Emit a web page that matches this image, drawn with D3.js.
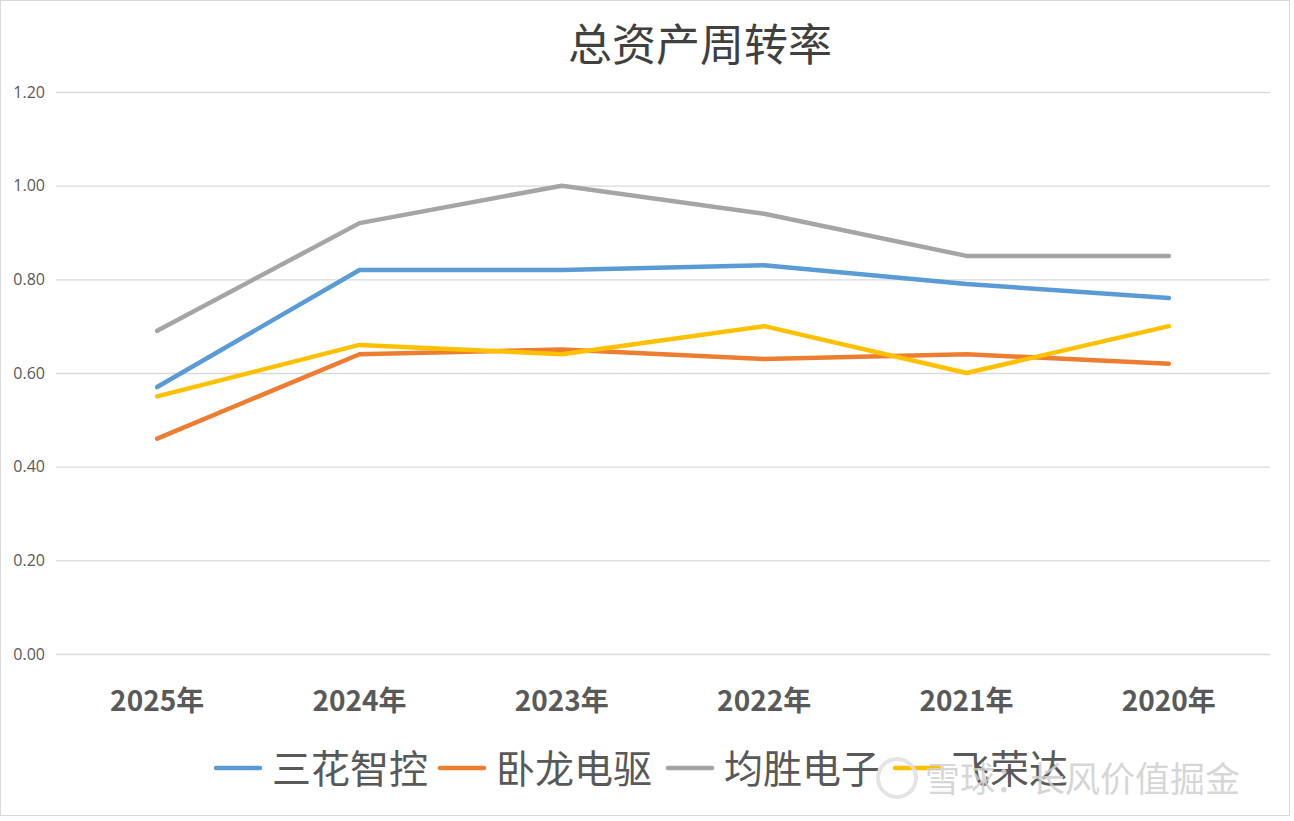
<!DOCTYPE html>
<html>
<head>
<meta charset="utf-8">
<script src="https://cdn.jsdelivr.net/npm/d3@7"></script>
<style>
  body { margin: 0; background: #fff; }
  text { font-family: "Noto Sans CJK SC", "Noto Sans", sans-serif; }
</style>
</head>
<body>
<div id="chart"></div>
<script>
// Data
var years = ["2025年", "2024年", "2023年", "2022年", "2021年", "2020年"];
var seriesNames = ["三花智控", "卧龙电驱", "均胜电子", "飞荣达"];
var sanhua = [0.57, 0.82, 0.82, 0.83, 0.79, 0.76];
var wolong = [0.46, 0.64, 0.65, 0.63, 0.64, 0.62];
var junsheng = [0.69, 0.92, 1.00, 0.94, 0.85, 0.85];
var feirongda = [0.55, 0.66, 0.64, 0.70, 0.60, 0.70];
var yTicks = [0, 0.2, 0.4, 0.6, 0.8, 1.0, 1.2];

var colors = ["#5B9BD5", "#ED7D31", "#A5A5A5", "#FFC000"];
var allSeries = [sanhua, wolong, junsheng, feirongda];

var svgWidth = 1294;
var svgHeight = 821;
var margin = { top: 92, right: 24, bottom: 167, left: 56 };
var chartWidth = svgWidth - margin.left - margin.right;
var chartHeight = svgHeight - margin.top - margin.bottom;

var svg = d3.select("#chart")
  .append("svg")
  .attr("width", svgWidth)
  .attr("height", svgHeight);

// outer frame
svg.append("rect")
  .attr("x", 0.5).attr("y", 0.5)
  .attr("width", svgWidth - 5).attr("height", svgHeight - 6)
  .attr("fill", "none")
  .attr("stroke", "#d9d9d9");

var chartGroup = svg.append("g")
  .attr("transform", `translate(${margin.left}, ${margin.top})`);

var xScale = d3.scaleBand()
  .domain(years)
  .range([0, chartWidth]);

var yScale = d3.scaleLinear()
  .domain([0, 1.2])
  .range([chartHeight, 0]);

// gridlines + y labels
var leftAxis = d3.axisLeft(yScale)
  .tickValues(yTicks)
  .tickSize(-chartWidth)
  .tickPadding(11)
  .tickFormat(d3.format(".2f"));

var yAxisG = chartGroup.append("g").call(leftAxis);
yAxisG.select(".domain").remove();
yAxisG.selectAll(".tick line")
  .attr("stroke", "#d9d9d9")
  .attr("stroke-width", 1.3);
yAxisG.selectAll(".tick text")
  .attr("fill", "#595959")
  .style("font-family", "'Open Sans', sans-serif")
  .style("font-size", "16px");

// x labels
var bottomAxis = d3.axisBottom(xScale).tickSize(0).tickPadding(37);
var xAxisG = chartGroup.append("g")
  .attr("transform", `translate(0, ${chartHeight})`)
  .call(bottomAxis);
xAxisG.select(".domain").remove();
xAxisG.selectAll(".tick text")
  .attr("fill", "#595959")
  .attr("font-size", "28px")
  .attr("font-weight", "bold");

// lines
var line = d3.line()
  .x((d, i) => xScale(years[i]) + xScale.bandwidth() / 2)
  .y(d => yScale(d));

allSeries.forEach((s, k) => {
  chartGroup.append("path")
    .datum(s)
    .attr("fill", "none")
    .attr("stroke", colors[k])
    .attr("stroke-width", 4.5)
    .attr("stroke-linejoin", "round")
    .attr("stroke-linecap", "round")
    .attr("d", line);
});

// title
svg.append("text")
  .attr("x", 700)
  .attr("y", 61)
  .attr("text-anchor", "middle")
  .attr("font-size", "44px")
  .attr("fill", "#404040")
  .text("总资产周转率");

// legend
var legendX = [216, 440, 668, 895];
var legend = svg.append("g");
seriesNames.forEach((name, k) => {
  legend.append("line")
    .attr("x1", legendX[k]).attr("x2", legendX[k] + 44)
    .attr("y1", 768).attr("y2", 768)
    .attr("stroke", colors[k])
    .attr("stroke-width", 4.5)
    .attr("stroke-linecap", "round");
  legend.append("text")
    .attr("x", legendX[k] + 56)
    .attr("y", 783)
    .attr("font-size", "39px")
    .attr("fill", "#595959")
    .text(name);
});

// watermark
var wm = svg.append("g").attr("opacity", 0.85);
wm.append("circle")
  .attr("cx", 897).attr("cy", 778).attr("r", 19)
  .attr("fill", "none").attr("stroke", "#e0e0e0").attr("stroke-width", 4);
wm.append("text")
  .attr("x", 925)
  .attr("y", 792)
  .attr("font-size", "35px")
  .attr("fill", "#d0d0d0")
  .text("雪球：长风价值掘金");
</script>
</body>
</html>
